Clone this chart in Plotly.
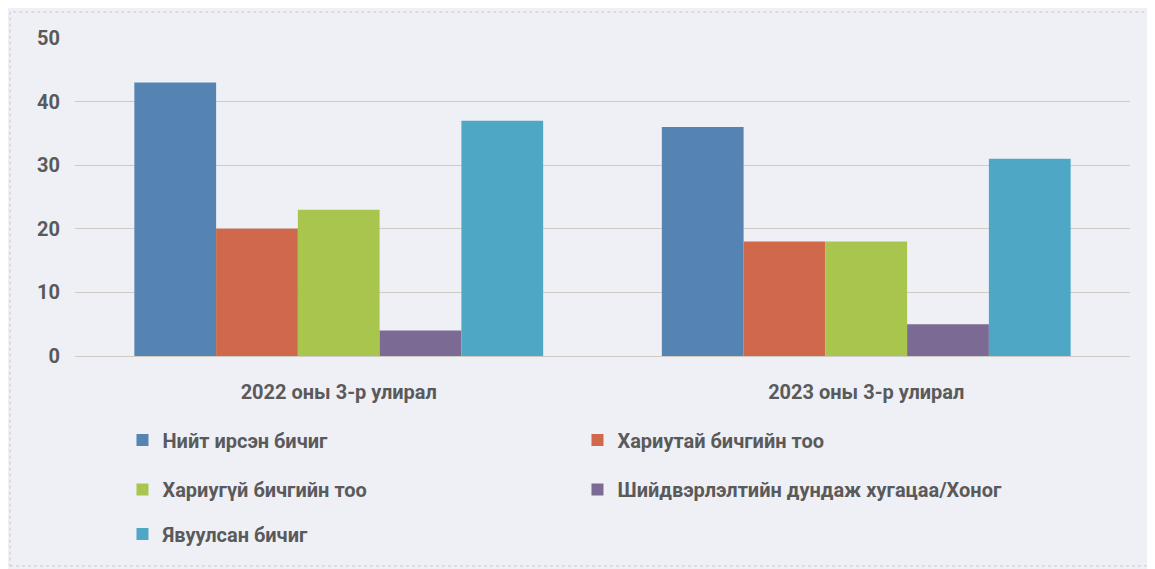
import plotly.graph_objects as go

categories = ["2022 оны 3-р улирал", "2023 оны 3-р улирал"]
series_names = [
    "Нийт ирсэн бичиг",
    "Хариутай бичгийн тоо",
    "Хариугүй бичгийн тоо",
    "Шийдвэрлэлтийн дундаж хугацаа/Хоног",
    "Явуулсан бичиг",
]
total_in = [43, 36]
answered = [20, 18]
unanswered = [23, 18]
avg_days = [4, 5]
sent = [37, 31]
series_values = [total_in, answered, unanswered, avg_days, sent]
colors = ["#5684b2", "#d0694b", "#a8c64e", "#7b6a94", "#4ea7c4"]
y_ticks = [0, 10, 20, 30, 40, 50]

FONT = "Roboto, Liberation Sans, Arial"
TXT = "#5a5a5a"

fig = go.Figure()
legend_ids = ["legend", "legend", "legend2", "legend2", "legend3"]
for name, vals, col, lg in zip(series_names, series_values, colors, legend_ids):
    fig.add_trace(go.Bar(x=categories, y=vals, name=name, marker_color=col,
                         marker_line_width=0, legend=lg))

leg_common = dict(orientation="h", xanchor="left", yanchor="middle",
                  entrywidth=410, entrywidthmode="pixels",
                  font=dict(family=FONT, size=20, color=TXT, weight="bold"),
                  bgcolor="rgba(0,0,0,0)", itemclick=False)

fig.update_layout(
    width=1155, height=569,
    margin=dict(l=67, r=33, t=30, b=221),
    paper_bgcolor="#eef0f6",
    plot_bgcolor="#eef0f6",
    barmode="group",
    bargap=0.225,
    bargroupgap=0,
    showlegend=True,
    legend=dict(x=0.045, y=-0.264, **leg_common),
    legend2=dict(x=0.045, y=-0.42, **leg_common),
    legend3=dict(x=0.045, y=-0.56, **leg_common),
    xaxis=dict(showgrid=False, showline=False, ticks="",
               tickfont=dict(family=FONT, size=20, color=TXT, weight="bold"),
               ticklabelstandoff=22),
    yaxis=dict(range=[0, 50], tickvals=y_ticks, showgrid=True,
               gridcolor="#cfcbc3", gridwidth=1, zeroline=True,
               zerolinecolor="#cfcbc3", zerolinewidth=1, showline=False,
               tickfont=dict(family=FONT, size=20, color=TXT, weight="bold"),
               ticklabelstandoff=14),
    shapes=[dict(type="rect", xref="paper", yref="paper",
                 x0=-0.0616, x1=1.021, y0=-0.66, y1=1.082,
                 line=dict(color="#c9c9cc", width=1, dash="dot"))],
)

fig.write_html("out.html")
